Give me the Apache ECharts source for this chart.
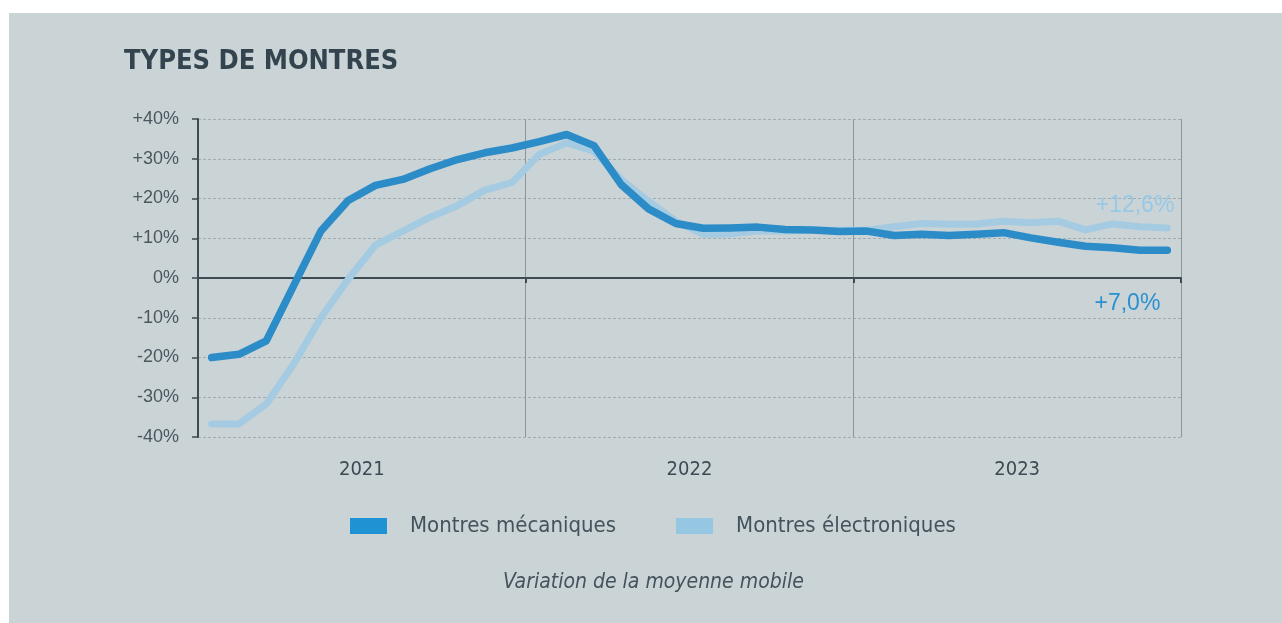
<!DOCTYPE html>
<html>
<head>
<meta charset="utf-8">
<script src="https://cdn.jsdelivr.net/npm/echarts@6/dist/echarts.min.js"></script>
<style>
  html, body { margin: 0; padding: 0; background: #ffffff; }
  #chart { position: absolute; left: 9px; top: 13px; width: 1273px; height: 610px; }
</style>
</head>
<body>
<div id="chart"></div>
<script>
// mois de jan. 2021 à déc. 2023
const months = [];
['2021', '2022', '2023'].forEach(function (y) {
    for (let m = 1; m <= 12; m++) months.push(y + '-' + (m < 10 ? '0' + m : m));
});
const years = ['2021', '2022', '2023'];

// variation de la moyenne mobile, en %
const mecaniques = [
    -20, -19.2, -15.8, -2, 11.8, 19.5, 23.3, 24.8, 27.5, 29.8, 31.5, 32.7,
    34.3, 36.1, 33.3, 23.5, 17.4, 13.7, 12.5, 12.6, 12.8, 12.2, 12.1, 11.7,
    11.8, 10.7, 11.0, 10.7, 11.0, 11.4, 10.1, 9.0, 8.0, 7.6, 7.0, 7.0
];
const electroniques = [
    -36.7, -36.7, -31.7, -21.7, -10, -0.3, 8.3, 11.8, 15.3, 18.2, 22.1, 24.0,
    31.1, 34.0, 31.9, 24.8, 19.3, 14.3, 11.0, 11.1, 11.8, 11.8, 12.0, 12.0,
    12.0, 12.9, 13.7, 13.5, 13.6, 14.3, 13.9, 14.3, 12.1, 13.6, 12.9, 12.6
];

const narrow = "'Liberation Sans Narrow', 'DejaVu Sans Condensed', sans-serif";
const dark = '#2b8cc8';
const light = '#a4cbe2';

function pct(v) {
    return (v > 0 ? '+' : '') + v.toFixed(1).replace('.', ',') + '%';
}

const myChart = echarts.init(document.getElementById('chart'), null, { renderer: 'canvas' });

myChart.setOption({
    backgroundColor: '#cad3d6',
    animation: false,
    title: [
        {
            text: 'TYPES DE MONTRES',
            left: 115, top: 35, padding: 0,
            textStyle: { fontFamily: narrow, fontWeight: 'bold', fontSize: 27, color: '#34444e' }
        },
        {
            text: 'Variation de la moyenne mobile',
            left: 494, top: 559, padding: 0,
            textStyle: { fontFamily: narrow, fontStyle: 'italic', fontWeight: 'normal', fontSize: 21, color: '#44525b' }
        }
    ],
    legend: {
        left: 341, top: 502, padding: 0,
        itemWidth: 37, itemHeight: 16, itemGap: 60,
        icon: 'rect',
        data: [
            { name: 'Montres mécaniques', itemStyle: { color: '#1e92d2' } },
            { name: 'Montres électroniques', itemStyle: { color: '#96c7e2' } }
        ],
        textStyle: { fontFamily: narrow, fontSize: 22, color: '#44525b', padding: [0, 0, 0, 18] }
    },
    grid: { left: 189, right: 101, top: 106, bottom: 186 },
    xAxis: [
        {
            type: 'category', data: months, boundaryGap: true,
            axisLine: { onZero: true, lineStyle: { color: '#3f4a52', width: 2 } },
            axisTick: {
                show: true, length: 5, lineStyle: { color: '#3f4a52', width: 2 },
                interval: function (i) { return i % 12 === 0; }
            },
            axisLabel: { show: false },
            splitLine: { show: false }
        },
        {
            type: 'category', data: years, boundaryGap: true, position: 'bottom',
            axisLine: { show: false, onZero: false },
            axisTick: { show: false },
            axisLabel: { margin: 23, fontFamily: narrow, fontSize: 20, color: '#3d4a53' },
            splitLine: { show: true, lineStyle: { color: '#8d9499', width: 1 } }
        }
    ],
    yAxis: {
        type: 'value', min: -40, max: 40, interval: 10,
        axisLine: { show: true, lineStyle: { color: '#3f4a52', width: 2 } },
        axisTick: { show: true, length: 6, lineStyle: { color: '#3f4a52', width: 1.5 } },
        axisLabel: {
            margin: 19, fontFamily: "'Liberation Sans', sans-serif", fontSize: 18, color: '#4b565e',
            formatter: function (v) { return (v > 0 ? '+' : '') + v + '%'; }
        },
        splitLine: { show: true, lineStyle: { color: '#a3acb0', width: 1, type: [3, 2] } }
    },
    series: [
        {
            name: 'Montres électroniques', type: 'line', data: electroniques,
            symbol: 'none', smooth: false,
            lineStyle: { color: light, width: 7, cap: 'round', join: 'round' },
            itemStyle: { color: light },
            endLabel: {
                show: true, distance: 0, align: 'right', verticalAlign: 'middle',
                offset: [7, -22],
                formatter: function (p) { return pct(p.value); },
                fontFamily: "'Liberation Sans', sans-serif", fontSize: 23, color: '#97c9e6'
            }
        },
        {
            name: 'Montres mécaniques', type: 'line', data: mecaniques,
            symbol: 'none', smooth: false,
            lineStyle: { color: dark, width: 7.5, cap: 'round', join: 'round' },
            itemStyle: { color: dark },
            endLabel: {
                show: true, distance: 0, align: 'right', verticalAlign: 'middle',
                offset: [-7, 53],
                formatter: function (p) { return pct(p.value); },
                fontFamily: "'Liberation Sans', sans-serif", fontSize: 23, color: '#2a90d0'
            }
        }
    ]
});
</script>
</body>
</html>
